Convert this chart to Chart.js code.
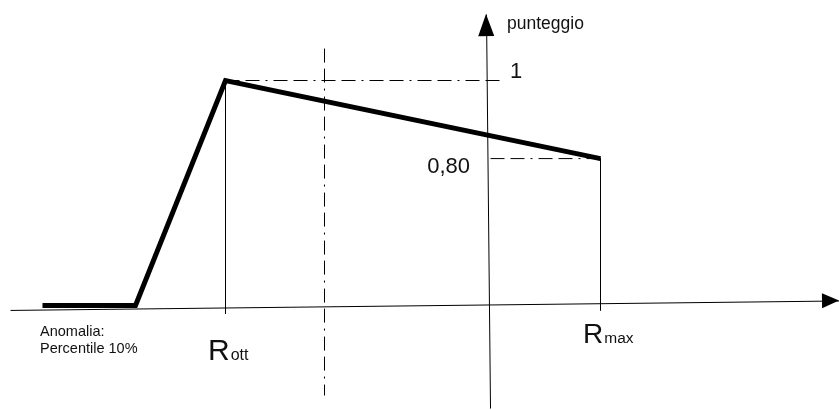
<!DOCTYPE html>
<html>
<head>
<meta charset="utf-8">
<script src="https://cdn.jsdelivr.net/npm/chart.js@4.4.0/dist/chart.umd.min.js"></script>
<style>
  html, body { margin: 0; padding: 0; background: #fff; }
  #wrap { width: 839px; height: 410px; }
</style>
</head>
<body>
<div id="wrap"><canvas id="diagram"></canvas></div>
<script>
// ---------------- Data ----------------
// x in drawing units (left to right), y in score units (0 = baseline, 1 = top score)
const scoreX = [42, 135, 225, 600];
const scoreY = [0, 0, 1, 0.653];

const xAxisX = [10, 839];
const xAxisY = [-0.022, 0.02];
const yAxisX = [490, 486];
const yAxisY = [-0.458, 1.293];

// guide lines
const rOttX = 225;
const rMaxX = 600;
const rOttLineY = [1, -0.036];
const rMaxLineY = [0.653, -0.022];
const topGuideX = [225, 500];
const lowGuideX = [490, 600];
const midGuideX = 324;
const midGuideY = [1.142, -0.4];

// tick labels
const yTickValues = [1, 0.653];
const yTickLabels = ['1', '0,80'];
const xTickValues = [rOttX, rMaxX];
const xTickLabels = [['R', 'ott'], ['R', 'max']];
const yAxisTitle = 'punteggio';
const noteLines = ['Anomalia:', 'Percentile 10%'];
const noteX = 40;

// ---------------- Helpers ----------------
function pts(xs, ys) {
  return xs.map((x, i) => ({ x: x, y: ys[i] }));
}
const FONT = '"Liberation Sans", Arial, sans-serif';
const dashDot = [14, 6, 14, 6, 2, 6];

function line(data, opts) {
  return Object.assign({
    data: data, borderColor: '#000', borderWidth: 1, pointRadius: 0,
    fill: false, tension: 0, clip: false
  }, opts || {});
}

// ---------------- Plugins ----------------
// shift by half a pixel so the 1px lines stay crisp
const crispPlugin = {
  id: 'crisp',
  beforeDatasetsDraw(chart) { chart.ctx.save(); chart.ctx.translate(0.5, 0.5); },
  afterDatasetsDraw(chart) { chart.ctx.restore(); }
};

const arrowPlugin = {
  id: 'arrows',
  afterDatasetsDraw(chart) {
    const ctx = chart.ctx;
    chart.data.datasets.forEach((ds, i) => {
      if (!ds.arrow) return;
      const pts = chart.getDatasetMeta(i).data;
      const a = pts[pts.length - 2], b = pts[pts.length - 1];
      const ang = Math.atan2(b.y - a.y, b.x - a.x);
      const len = ds.arrow.len, half = ds.arrow.half;
      ctx.save();
      ctx.translate(b.x, b.y);
      ctx.rotate(ang);
      ctx.fillStyle = '#000';
      ctx.beginPath();
      ctx.moveTo(0, 0);
      ctx.lineTo(-len, -half);
      ctx.lineTo(-len, half);
      ctx.closePath();
      ctx.fill();
      ctx.restore();
    });
  }
};

const labelPlugin = {
  id: 'labels',
  afterDraw(chart) {
    const ctx = chart.ctx;
    const xs = chart.scales.x, ys = chart.scales.y;
    ctx.save();
    ctx.fillStyle = '#111';
    ctx.textBaseline = 'alphabetic';

    // score labels next to the y axis
    ctx.font = '22px ' + FONT;
    ctx.textAlign = 'left';
    ctx.fillText(yTickLabels[0], 510, ys.getPixelForValue(yTickValues[0]) - 2);
    ctx.textAlign = 'right';
    ctx.fillText(yTickLabels[1], 470, ys.getPixelForValue(yTickValues[1]) + 15);

    // axis title
    ctx.textAlign = 'left';
    ctx.font = '17.5px ' + FONT;
    ctx.fillText(yAxisTitle, 507, 29);

    // R labels with subscripts
    const rSizes = [[30, 16, 360], [28, 15.5, 343]];
    xTickLabels.forEach((lab, i) => {
      const px = xs.getPixelForValue(xTickValues[i]);
      const [big, small, base] = rSizes[i];
      ctx.font = big + 'px ' + FONT;
      const left = px - 17;
      ctx.fillText(lab[0], left, base);
      const w = ctx.measureText(lab[0]).width;
      ctx.font = small + 'px ' + FONT;
      ctx.fillText(lab[1], left + w + 1, base);
    });

    // note under the flat segment
    ctx.font = '14.5px ' + FONT;
    noteLines.forEach((t, i) => ctx.fillText(t, noteX, 336 + i * 17));
    ctx.restore();
  }
};

// ---------------- Chart ----------------
document.addEventListener('DOMContentLoaded', () => {
  const ctx = document.getElementById('diagram').getContext('2d');
  new Chart(ctx, {
    type: 'line',
    data: {
      datasets: [
        line(pts(xAxisX, xAxisY), { arrow: { len: 17, half: 7.5 } }),
        line(pts(yAxisX, yAxisY), { arrow: { len: 22, half: 8 } }),
        line(pts([rOttX, rOttX], rOttLineY)),
        line(pts([rMaxX, rMaxX], rMaxLineY)),
        line(pts(topGuideX, [1, 1]), { borderDash: dashDot }),
        line(pts(lowGuideX, [0.653, 0.653]), { borderDash: dashDot }),
        line(pts([midGuideX, midGuideX], midGuideY), { borderDash: dashDot }),
        line(pts(scoreX, scoreY), { borderWidth: 5, borderJoinStyle: 'miter', borderCapStyle: 'butt' })
      ]
    },
    options: {
      animation: false,
      responsive: true,
      maintainAspectRatio: false,
      layout: { padding: 0 },
      scales: {
        x: { type: 'linear', min: 0, max: 839, display: false },
        y: { type: 'linear', min: -0.4667, max: 1.3556, display: false }
      },
      plugins: { legend: { display: false }, tooltip: { enabled: false } }
    },
    plugins: [crispPlugin, arrowPlugin, labelPlugin]
  });
});
</script>
</body>
</html>
